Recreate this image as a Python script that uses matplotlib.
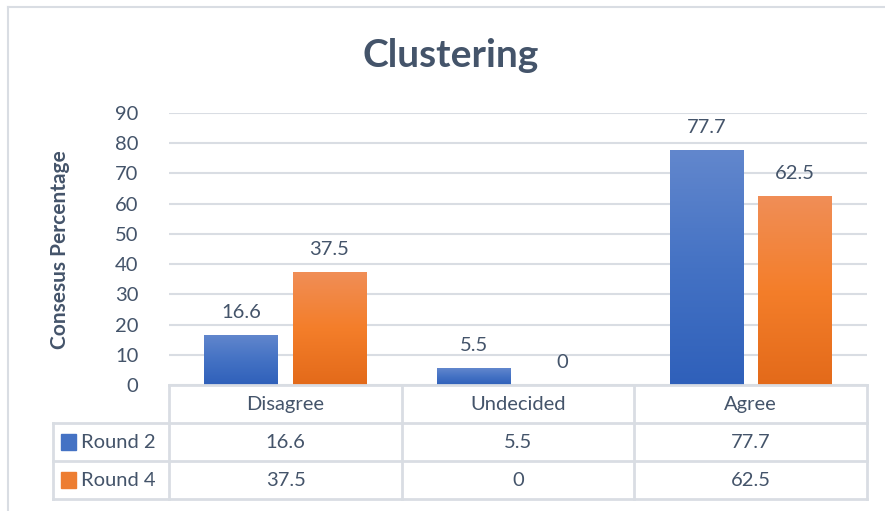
import matplotlib
matplotlib.use("Agg")
from matplotlib import pyplot as plt
from matplotlib.colors import LinearSegmentedColormap
from matplotlib.lines import Line2D
from matplotlib.patches import Rectangle
import numpy as np

# data
categories = ["Disagree", "Undecided", "Agree"]
series_names = ["Round 2", "Round 4"]
round2 = [16.6, 5.5, 77.7]
round4 = [37.5, 0, 62.5]
yticks = [0, 10, 20, 30, 40, 50, 60, 70, 80, 90]

plt.rcParams['font.family'] = ['Lato', 'DejaVu Sans']
txt = '#44546A'
grid_col = '#D9DDE3'
fs = 14.5

blue_cmap = LinearSegmentedColormap.from_list('b', ['#2F60BA', '#4472C4', '#6287CD'])
orange_cmap = LinearSegmentedColormap.from_list('o', ['#E36A1A', '#F47E2A', '#F08E57'])

W, H = 885, 511
fig = plt.figure(figsize=(W / 100, H / 100), dpi=100)

# outer chart border (left and top only visible)
fig.add_artist(Line2D([8 / W, 8 / W], [0, 1 - 7 / H], color=grid_col, lw=1.5))
fig.add_artist(Line2D([8 / W, 1], [1 - 7 / H, 1 - 7 / H], color=grid_col, lw=1.5))

x0, x1 = 169, 867
ax = fig.add_axes([x0 / W, 1 - 385 / H, (x1 - x0) / W, (385 - 113) / H])
x = np.arange(len(categories))
off = 0.19
bw = 0.315
bars1 = ax.bar(x - off, round2, bw, color='none', zorder=3)
bars2 = ax.bar(x + off, round4, bw, color='none', zorder=3)

grad = np.linspace(0, 1, 256).reshape(-1, 1)
for bars, cmap in [(bars1, blue_cmap), (bars2, orange_cmap)]:
    for b in bars:
        bx, by, bwid, bh = b.get_x(), b.get_y(), b.get_width(), b.get_height()
        if bh <= 0:
            continue
        im = ax.imshow(grad, cmap=cmap, extent=[bx, bx + bwid, by, by + bh],
                       origin='lower', aspect='auto', zorder=3)
        im.set_clip_path(b)

for bars, vals in [(bars1, round2), (bars2, round4)]:
    for b, v in zip(bars, vals):
        ax.annotate(f"{v:g}", (b.get_x() + b.get_width() / 2, v),
                    xytext=(0, 10), textcoords='offset points',
                    ha='center', va='bottom', fontsize=fs, color=txt)

ax.set_xlim(-0.5, 2.5)
ax.set_ylim(0, 90)
ax.set_yticks(yticks)
ax.set_xticks([])
ax.tick_params(axis='y', length=0, pad=22, labelsize=fs, labelcolor=txt)
ax.grid(axis='y', color=grid_col, lw=1.5, zorder=0)
ax.set_axisbelow(True)
for s in ax.spines.values():
    s.set_visible(False)

fig.text(60 / W, 1 - 250 / H, "Consesus Percentage", rotation=90, ha='center', va='center',
         fontsize=15, fontweight='bold', color=txt)
fig.text(451 / W, 1 - 55 / H, "Clustering", ha='center', va='center',
         fontsize=28, fontweight='bold', color=txt)

# data table under the plot
tax = fig.add_axes([53 / W, 1 - 499 / H, (x1 - 53) / W, (499 - 385) / H])
tax.set_xlim(-1, 2.5)
tax.set_ylim(3, 0)
tax.axis('off')
lk = dict(color=grid_col, lw=2, clip_on=False, solid_capstyle='projecting')
tax.plot([-0.5, 2.5], [0, 0], **lk)
for yy in [1, 2, 3]:
    tax.plot([-1, 2.5], [yy, yy], **lk)
tax.plot([-1, -1], [1, 3], **lk)
for xx in [-0.5, 0.5, 1.5, 2.5]:
    tax.plot([xx, xx], [0, 3], **lk)

for i, c in enumerate(categories):
    tax.text(i, 0.5, c, ha='center', va='center', fontsize=fs, color=txt)
for r, (name, vals, col) in enumerate(zip(series_names, [round2, round4], ['#4472C4', '#ED7D31'])):
    tax.add_patch(Rectangle((-1 + 8 / 232.6, r + 1.5 - 0.2), 15 / 232.6, 0.4,
                            color=col, clip_on=False))
    tax.text(-1 + 28 / 232.6, r + 1.5, name, ha='left', va='center', fontsize=fs, color=txt)
    for i, v in enumerate(vals):
        tax.text(i, r + 1.5, f"{v:g}", ha='center', va='center', fontsize=fs, color=txt)

fig.savefig("out.png", dpi=100)
